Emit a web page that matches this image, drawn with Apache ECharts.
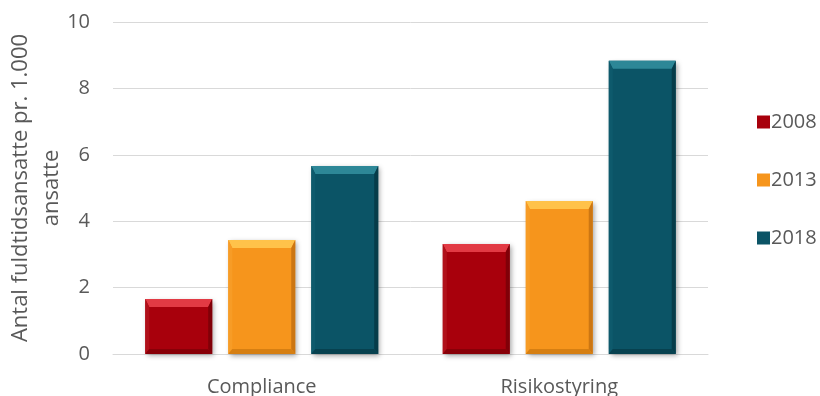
<!DOCTYPE html>
<html>
<head>
<meta charset="utf-8">
<script src="https://cdn.jsdelivr.net/npm/echarts@6/dist/echarts.min.js"></script>
<style>
  html, body { margin: 0; padding: 0; background: #ffffff; }
  #chart { width: 820px; height: 396px; }
</style>
</head>
<body>
<div id="chart"></div>
<script>
// Categories, series and tick values
const categories = ['Compliance', 'Risikostyring'];
const years = ['2008', '2013', '2018'];
const values2008 = [1.66, 3.31];
const values2013 = [3.43, 4.61];
const values2018 = [5.66, 8.83];
const yTicks = [0, 2, 4, 6, 8, 10];

// Face / bevel colours per year
const palettes = [
  { face: '#a8000c', top: '#e23a44', left: '#b0101a', right: '#800008', bottom: '#880008' },
  { face: '#f6951c', top: '#ffc24a', left: '#f79c26', right: '#cc7612', bottom: '#d67f12' },
  { face: '#0b5466', top: '#2d8797', left: '#0e5a6c', right: '#063c49', bottom: '#07414f' }
];

const seriesValues = [values2008, values2013, values2018];

const BAR_RATIO = 0.225;   // bar width relative to category band
const GAP_RATIO = 0.054;   // gap between bars relative to category band

function makeRenderer(idx) {
  const pal = palettes[idx];
  return function (params, api) {
    const cat = api.value(0);
    const val = api.value(1);
    const base = api.coord([cat, 0]);
    const topPt = api.coord([cat, val]);
    const band = api.size([1, 0])[0];
    const w = band * BAR_RATIO;
    const g = band * GAP_RATIO;
    const x = base[0] + (idx - 1) * (w + g) - w / 2;
    const y = topPt[1];
    const h = base[1] - topPt[1];
    const bt = Math.min(8, h / 2), bs = 4, bb = Math.min(5, h / 3);
    return {
      type: 'group',
      children: [
        {
          type: 'rect',
          shape: { x: x, y: y, width: w, height: h },
          style: {
            fill: pal.face,
            shadowBlur: 5,
            shadowColor: 'rgba(0,0,0,0.35)',
            shadowOffsetX: 2,
            shadowOffsetY: 2
          }
        },
        {
          type: 'polygon',
          shape: { points: [[x, y], [x + w, y], [x + w - bs, y + bt], [x + bs, y + bt]] },
          style: { fill: pal.top }
        },
        {
          type: 'polygon',
          shape: { points: [[x, y], [x + bs, y + bt], [x + bs, y + h - bb], [x, y + h]] },
          style: { fill: pal.left }
        },
        {
          type: 'polygon',
          shape: { points: [[x + w, y], [x + w - bs, y + bt], [x + w - bs, y + h - bb], [x + w, y + h]] },
          style: { fill: pal.right }
        },
        {
          type: 'polygon',
          shape: { points: [[x, y + h], [x + bs, y + h - bb], [x + w - bs, y + h - bb], [x + w, y + h]] },
          style: { fill: pal.bottom }
        }
      ]
    };
  };
}

const textColor = '#595959';
const fontFamily = '"Open Sans", Lato, "Liberation Sans", sans-serif';

const chart = echarts.init(document.getElementById('chart'), null, { renderer: 'canvas' });

chart.setOption({
  animation: false,
  backgroundColor: '#ffffff',
  grid: { left: 113, right: 112, top: 22, bottom: 42, containLabel: false, outerBoundsMode: 'none' },
  legend: {
    orient: 'vertical',
    left: 752,
    top: 107,
    itemGap: 38,
    itemWidth: 13,
    itemHeight: 13,
    icon: 'rect',
    textStyle: { color: textColor, fontSize: 20, fontFamily: fontFamily, padding: [0, 0, 0, -4] },
    data: years
  },
  xAxis: {
    type: 'category',
    data: categories,
    axisLine: { show: true, lineStyle: { color: '#d9d9d9', width: 1 } },
    axisTick: { show: false },
    axisLabel: { color: textColor, fontSize: 20, fontFamily: fontFamily, margin: 23 }
  },
  yAxis: {
    type: 'value',
    min: yTicks[0],
    max: yTicks[yTicks.length - 1],
    interval: 2,
    name: 'Antal fuldtidsansatte pr. 1.000\nansatte',
    nameLocation: 'middle',
    nameGap: 46,
    nameMoveOverlap: false,
    nameTextStyle: { color: textColor, fontSize: 22, fontFamily: fontFamily, lineHeight: 31 },
    axisLine: { show: false },
    axisTick: { show: false },
    axisLabel: { color: textColor, fontSize: 20, fontFamily: fontFamily, margin: 23 },
    splitLine: { lineStyle: { color: '#d9d9d9', width: 1 } }
  },
  series: years.map((yr, i) => ({
    type: 'custom',
    name: yr,
    color: palettes[i].face,
    renderItem: makeRenderer(i),
    encode: { x: 0, y: 1 },
    data: categories.map((c, j) => [j, seriesValues[i][j]])
  }))
});
</script>
</body>
</html>
